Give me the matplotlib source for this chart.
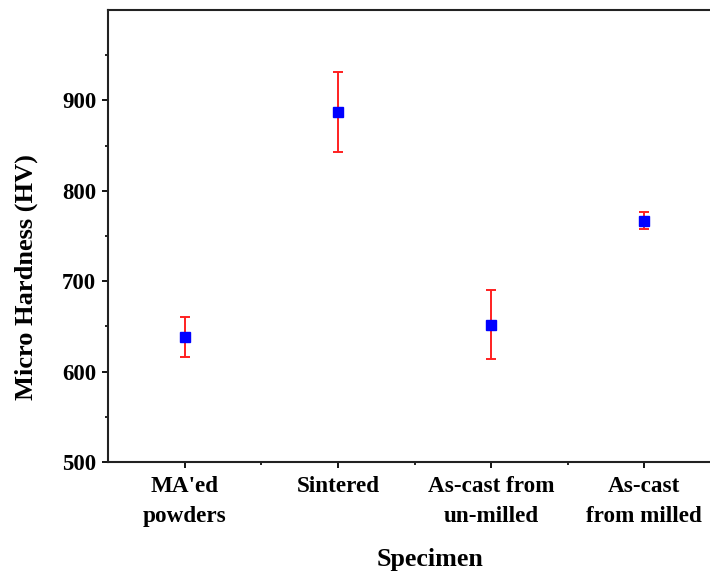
import matplotlib
matplotlib.use("Agg")
import matplotlib.pyplot as plt
from matplotlib.ticker import FixedLocator

categories = ["MA'ed\npowders", "Sintered", "As-cast from\nun-milled", "As-cast\nfrom milled"]
hardness = [638, 887, 652, 767]
errors = [22, 44.5, 38.5, 9.5]
y_ticks = [500, 600, 700, 800, 900]

plt.rcParams['font.family'] = ['Liberation Serif', 'DejaVu Serif']
plt.rcParams['font.weight'] = 'bold'

fig = plt.figure(figsize=(7.10, 5.71), dpi=100)
W, H = 710, 571
left, right, top, bottom = 108, 721, 10, 462
ax = fig.add_axes([left / W, 1 - bottom / H, (right - left) / W, (bottom - top) / H])

x = list(range(1, len(categories) + 1))
ax.errorbar(x, hardness, yerr=errors, fmt='none', ecolor='#ff2020', elinewidth=1.4,
            capsize=3.5, capthick=1.4, zorder=2)
ax.plot(x, hardness, linestyle='none', marker='s', markersize=7.5, color='#0000ff', zorder=3)

ax.set_xlim(0.5, 4.5)
ax.set_ylim(500, 1000)
ax.yaxis.set_major_locator(FixedLocator(y_ticks))
ax.yaxis.set_minor_locator(FixedLocator([550, 650, 750, 850, 950]))
ax.xaxis.set_major_locator(FixedLocator(x))
ax.xaxis.set_minor_locator(FixedLocator([1.5, 2.5, 3.5]))
ax.set_xticklabels(categories, fontsize=16.7, fontweight='bold', linespacing=1.6)
ax.set_yticklabels([str(v) for v in y_ticks], fontsize=16.5, fontweight='bold')

ax.tick_params(axis='x', which='major', direction='out', length=4, width=1.3, pad=6)
ax.tick_params(axis='y', which='major', direction='out', length=4, width=1.3, pad=4.5)
ax.tick_params(axis='both', which='minor', direction='out', length=2.5, width=1.2)
for s in ['left', 'bottom', 'top']:
    ax.spines[s].set_linewidth(1.5)
    ax.spines[s].set_color('#222222')
ax.spines['right'].set_visible(False)

ax.set_ylabel('Micro Hardness (HV)', fontsize=19, fontweight='bold')
ax.set_xlabel('Specimen', fontsize=18.7, fontweight='bold')
ax.yaxis.set_label_coords(-0.114, 0.41)
ax.xaxis.set_label_coords(0.526, -0.19)

fig.savefig('out.png', dpi=100)
